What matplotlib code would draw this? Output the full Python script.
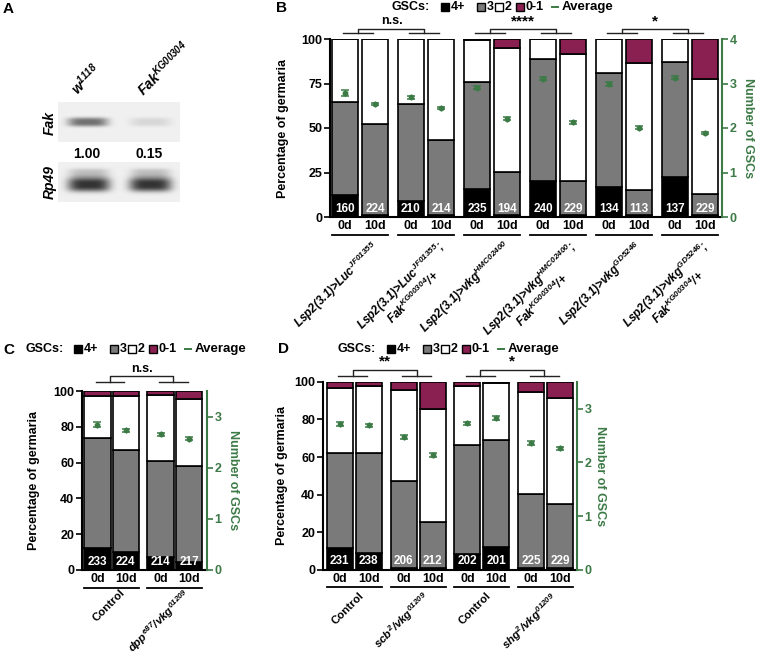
import numpy as np
import matplotlib
matplotlib.use('Agg')
import matplotlib.pyplot as plt
from matplotlib.patches import Rectangle

plt.rcParams['font.family'] = ['Liberation Sans', 'DejaVu Sans']
plt.rcParams['font.weight'] = 'bold'
plt.rcParams['axes.labelweight'] = 'bold'
plt.rcParams['mathtext.fontset'] = 'custom'
plt.rcParams['mathtext.rm'] = 'Liberation Sans:italic:bold'
plt.rcParams['mathtext.it'] = 'Liberation Sans:italic:bold'
plt.rcParams['mathtext.bf'] = 'Liberation Sans:italic:bold'

GRAY = '#7a7a7a'
MAROON = '#8a1f52'
GREEN = '#3c7a46'
SEG_COLORS = ['black', GRAY, 'white', MAROON]
SEG_LABELS = ['4+', '3', '2', '0-1']
DAYS = ['0d', '10d']

# ---- panel B data (percent of germaria per GSC class, bottom to top)
b_groups = ['Lsp2(3.1)>Luc$^{JF01355}$',
            'Lsp2(3.1)>Luc$^{JF01355}$;\nFak$^{KG00304}$/+',
            'Lsp2(3.1)>vkg$^{HMC02400}$',
            'Lsp2(3.1)>vkg$^{HMC02400}$;\nFak$^{KG00304}$/+',
            'Lsp2(3.1)>vkg$^{GD5246}$',
            'Lsp2(3.1)>vkg$^{GD5246}$;\nFak$^{KG00304}$/+']
b_four = [12.5, 1, 9, 1, 15.5, 1, 20.5, 1, 16.8, 1, 22.4, 1]
b_three = [52.1, 51.2, 54.6, 42.3, 60.1, 24.2, 68.1, 19.0, 64.2, 14.3, 64.9, 11.7]
b_two = [35.4, 47.8, 36.4, 56.7, 23.8, 69.7, 11.4, 71.7, 19.0, 71.4, 12.7, 64.6]
b_zero_one = [0, 0, 0, 0, 0.6, 5.1, 0, 8.3, 0, 13.3, 0, 22.7]
b_avg = [2.79, 2.54, 2.69, 2.45, 2.91, 2.21, 3.11, 2.13, 2.99, 2.01, 3.13, 1.89]
b_err = [0.06, 0.03, 0.03, 0.03, 0.04, 0.03, 0.04, 0.03, 0.05, 0.04, 0.04, 0.03]
b_n = [160, 224, 210, 214, 235, 194, 240, 229, 134, 113, 137, 229]
b_sig = ['n.s.', '****', '*']

# ---- panel C data
c_groups = ['Control', '$\\it{dpp}^{e87}/\\it{vkg}^{01209}$']
c_four = [12.5, 10.3, 7.5, 4.7]
c_three = [61.0, 56.8, 53.5, 53.6]
c_two = [23.9, 30.1, 36.6, 37.0]
c_zero_one = [2.6, 2.8, 2.4, 4.7]
c_avg = [2.84, 2.73, 2.65, 2.57]
c_err = [0.05, 0.03, 0.03, 0.03]
c_n = [233, 224, 214, 217]
c_sig = ['n.s.']

# ---- panel D data
d_groups = ['Control', '$\\it{scb}^{2}/\\it{vkg}^{01209}$',
            'Control', '$\\it{shg}^{2}/\\it{vkg}^{01209}$']
d_four = [11.5, 8.8, 1, 1, 8.5, 12.4, 1, 1]
d_three = [50.6, 53.2, 46.3, 24.7, 57.9, 56.7, 39.4, 33.9]
d_two = [34.7, 35.7, 48.2, 60.0, 31.3, 30.4, 54.2, 56.5]
d_zero_one = [3.2, 2.3, 4.5, 14.3, 2.3, 0.5, 5.4, 8.6]
d_avg = [2.71, 2.69, 2.47, 2.14, 2.73, 2.83, 2.36, 2.26]
d_err = [0.04, 0.03, 0.04, 0.04, 0.03, 0.04, 0.03, 0.03]
d_n = [231, 238, 206, 212, 202, 201, 225, 229]
d_sig = ['**', '*']

W, H = 757, 655
fig = plt.figure(figsize=(W / 100, H / 100), dpi=100)


def px_axes(l, t, r, b):
    return fig.add_axes([l / W, 1 - b / H, (r - l) / W, (b - t) / H])


overlay = px_axes(0, 0, W, H)
overlay.set_xlim(0, W)
overlay.set_ylim(H, 0)
overlay.axis('off')


def panel(rect, segs, avg, err, n, groups, sig, pair_step, width, xlim,
          yticks, rmax, rticks, geo):
    l, t, r, b = rect
    hpx = b - t
    ax = px_axes(l, t, r, b)
    npairs = len(groups)
    xs = np.array([p * pair_step + k for p in range(npairs) for k in (0, 1)])
    bottom = np.zeros(len(xs))
    for vals, col in zip(segs, SEG_COLORS):
        ax.bar(xs, vals, width, bottom=bottom, color=col, edgecolor='black',
               linewidth=1.2, zorder=2)
        bottom += np.array(vals)
    for x, v in zip(xs, n):
        ax.text(x, 4.7, str(v), color='white', ha='center', va='center',
                fontsize=8.5, zorder=3)
    ax.set_xlim(*xlim)
    ax.set_ylim(0, 100)
    ax.set_yticks(yticks)
    ax.set_xticks(xs)
    ax.set_xticklabels(DAYS * npairs, fontsize=9)
    ax.tick_params(axis='x', length=0, pad=2.5)
    ax.tick_params(axis='y', labelsize=9, width=1.2, length=4, pad=1.5)
    for s in ('top', 'right'):
        ax.spines[s].set_visible(False)
    for s in ('left', 'bottom'):
        ax.spines[s].set_linewidth(1.5)
    ax.set_ylabel('Percentage of germaria', fontsize=9, fontweight='bold')
    ax.yaxis.set_label_coords((geo['ylab'] - l) / (r - l), 0.5)

    ax2 = ax.twinx()
    ax2.set_ylim(0, rmax)
    ax2.set_yticks(rticks)
    ax2.errorbar(xs, avg, yerr=err, fmt='h', color=GREEN, ms=3.5,
                 capsize=3, elinewidth=1, capthick=1.1, zorder=4)
    for s in ('top', 'left', 'bottom'):
        ax2.spines[s].set_visible(False)
    ax2.spines['right'].set_color(GREEN)
    ax2.spines['right'].set_linewidth(1.5)
    ax2.tick_params(axis='y', colors=GREEN, labelsize=9, width=1.2,
                    length=4, pad=1.5)
    ax2.set_ylabel('Number of GSCs', color=GREEN, fontsize=9, rotation=270,
                   va='center', fontweight='bold')
    ax2.yaxis.set_label_coords((geo['rlab'] - l) / (r - l), 0.5)

    tr = ax.get_xaxis_transform()
    frac = lambda ypx: (b - ypx) / hpx
    # pair underlines and genotype labels
    for p in range(npairs):
        x0, x1 = xs[2 * p], xs[2 * p + 1]
        ax.plot([x0 - width / 2, x1 + width / 2], [frac(geo['uline'])] * 2,
                transform=tr, clip_on=False, color='black', lw=1.3)
        style = 'normal' if groups[p] == 'Control' else 'italic'
        ax.text((x0 + x1) / 2 + geo['lab_dx'], frac(geo['lab_y']), groups[p],
                transform=tr, rotation=45, rotation_mode='anchor', ha='right',
                va='top', fontsize=geo['lab_fs'], fontstyle=style,
                multialignment='center', linespacing=1.0)
    # significance brackets
    yp, yt, ytx = frac(geo['br_pair']), frac(geo['br_top']), frac(geo['br_txt'])
    for s, label in enumerate(sig):
        mids = []
        for p in (2 * s, 2 * s + 1):
            x0, x1 = xs[2 * p] - 0.05, xs[2 * p + 1] - 0.05
            ax.plot([x0, x1], [yp, yp], transform=tr, clip_on=False,
                    color='#222222', lw=1)
            mids.append((x0 + x1) / 2)
        ax.plot([mids[0], mids[0], mids[1], mids[1]], [yp, yt, yt, yp],
                transform=tr, clip_on=False, color='#222222', lw=1)
        ax.text(sum(mids) / 2, ytx, label, transform=tr, ha='center',
                va='center', fontsize=9 if label == 'n.s.' else 11)
    return ax


panel((330, 39, 722, 217), [b_four, b_three, b_two, b_zero_one], b_avg, b_err,
      b_n, b_groups, b_sig, 2.2, 0.867, (-0.5, 12.57), [0, 25, 50, 75, 100],
      4, [0, 1, 2, 3, 4],
      dict(ylab=289, rlab=748, uline=235, lab_y=238, lab_dx=0.35, lab_fs=8.5,
           br_pair=33, br_top=28.5, br_txt=21.5))
panel((82, 391, 207, 570), [c_four, c_three, c_two, c_zero_one], c_avg, c_err,
      c_n, c_groups, c_sig, 2.22, 0.93, (-0.54, 3.85),
      [0, 20, 40, 60, 80, 100], 3.5, [0, 1, 2, 3],
      dict(ylab=40, rlab=233, uline=588, lab_y=587, lab_dx=0.3, lab_fs=8.2,
           br_pair=381.5, br_top=376, br_txt=368.5))
panel((323, 381.7, 576.7, 570), [d_four, d_three, d_two, d_zero_one], d_avg,
      d_err, d_n, d_groups, d_sig, 2.2, 0.9, (-0.58, 8.17),
      [0, 20, 40, 60, 80, 100], 3.5, [0, 1, 2, 3],
      dict(ylab=288, rlab=600, uline=587, lab_y=590, lab_dx=0.15, lab_fs=8.2,
           br_pair=376, br_top=370, br_txt=361))


# ---- legends
def legend(x0, y):
    overlay.text(x0, y, 'GSCs:', va='center', ha='left', fontsize=9)
    for off, col, lab in zip([49, 85, 103, 124], SEG_COLORS, SEG_LABELS):
        overlay.add_patch(Rectangle((x0 + off, y - 4), 8, 8, fc=col,
                                    ec='black', lw=1))
        overlay.text(x0 + off + 9.5, y, lab, va='center', ha='left',
                     fontsize=9)
    overlay.plot([x0 + 160, x0 + 166], [y, y], color=GREEN, lw=1.4)
    overlay.text(x0 + 170, y, 'Average', va='center', ha='left', fontsize=9.5)


legend(392, 7)
legend(25, 349)
legend(338, 349)

for letter, (x, y) in zip('ABCD', [(3, 9), (276, 8), (3, 350), (278, 349)]):
    overlay.text(x, y, letter, fontsize=11, va='center', ha='left')


# ---- panel A: RT-PCR gel
def gel(h, w, bands, bg=0.94):
    yy, xx = np.mgrid[0:h, 0:w]
    img = np.full((h, w), bg)
    for cx, cy, hw, hh, depth in bands:
        img -= depth * np.exp(-np.abs((xx - cx) / hw) ** 4
                              - np.abs((yy - cy) / hh) ** 3)
    return np.clip(img, 0, 1)


fak_img = gel(40, 122, [(29.5, 19.5, 20, 4.5, 0.5), (92, 19.5, 20, 4.5, 0.1)])
rp_img = gel(40, 122, [(30.5, 22, 21, 7, 0.74), (30.5, 11, 20, 5, 0.2),
                       (92, 22, 21, 7, 0.74), (92, 11, 20, 5, 0.2)])
overlay.imshow(fak_img, cmap='gray', vmin=0, vmax=1, extent=(58, 180, 142, 102),
               aspect='auto', interpolation='bilinear')
overlay.imshow(rp_img, cmap='gray', vmin=0, vmax=1, extent=(58, 180, 202, 162),
               aspect='auto', interpolation='bilinear')
overlay.set_xlim(0, W)
overlay.set_ylim(H, 0)
overlay.text(50, 123, 'Fak', rotation=90, ha='center', va='center',
             fontsize=10, fontstyle='italic')
overlay.text(50, 182, 'Rp49', rotation=90, ha='center', va='center',
             fontsize=10, fontstyle='italic')
overlay.text(87, 154, '1.00', ha='center', va='center', fontsize=10)
overlay.text(149, 154, '0.15', ha='center', va='center', fontsize=10)
overlay.text(80, 98, 'w$^{1118}$', rotation=45, rotation_mode='anchor',
             ha='left', va='bottom', fontsize=10, fontstyle='italic')
overlay.text(146, 99, 'Fak$^{KG00304}$', rotation=45, rotation_mode='anchor',
             ha='left', va='bottom', fontsize=10, fontstyle='italic')

fig.savefig('out.png', dpi=100)
